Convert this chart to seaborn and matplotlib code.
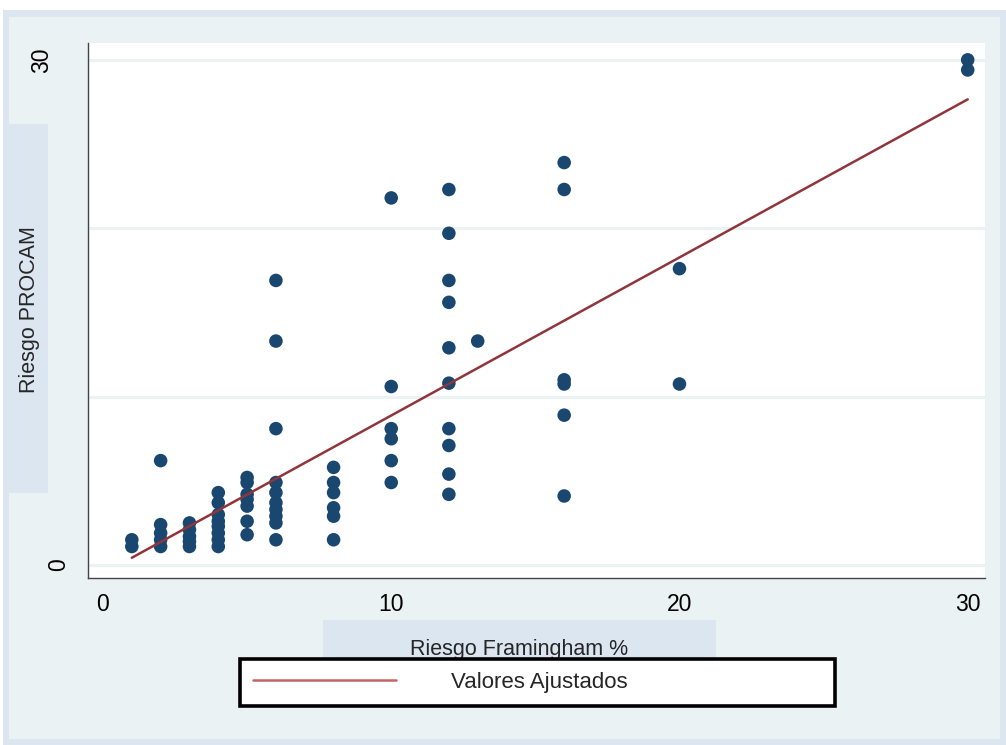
import matplotlib
matplotlib.use("Agg")
import matplotlib.pyplot as plt
import matplotlib.transforms as mtransforms
from matplotlib.patches import Rectangle
from matplotlib.lines import Line2D
import seaborn as sns
import pandas as pd

# Riesgo Framingham % (x) vs Riesgo PROCAM (y)
fram_1 = [1.5, 1.1]
fram_2 = [6.2, 2.4, 1.9, 1.5, 1.1]
fram_3 = [2.5, 2.1, 1.7, 1.4, 1.1]
fram_4 = [4.3, 3.7, 3.0, 2.6, 2.3, 1.9, 1.5, 1.1]
fram_5 = [5.2, 4.9, 4.2, 3.9, 3.5, 2.6, 1.8]
fram_6 = [16.9, 13.3, 8.1, 4.9, 4.3, 3.7, 3.3, 2.9, 2.5, 1.5]
fram_8 = [5.8, 4.9, 4.3, 3.4, 2.9, 1.5]
fram_10 = [21.8, 10.6, 8.1, 7.5, 6.2, 4.9]
fram_12 = [22.3, 19.7, 16.9, 15.6, 12.9, 10.8, 8.1, 7.1, 5.4, 4.2]
fram_13 = [13.3]
fram_16 = [23.9, 22.3, 11.0, 10.75, 8.9, 4.1]
fram_20 = [17.6, 10.75]
fram_30 = [30.0, 29.4]

groups = {1: fram_1, 2: fram_2, 3: fram_3, 4: fram_4, 5: fram_5, 6: fram_6,
          8: fram_8, 10: fram_10, 12: fram_12, 13: fram_13, 16: fram_16,
          20: fram_20, 30: fram_30}

x_ticks = [0, 10, 20, 30]
y_ticks = [0, 10, 20, 30]
y_tick_labels = ["0", "", "", "30"]

rows = []
for fx, vals in groups.items():
    for v in vals:
        rows.append({"framingham": fx, "procam": v})
df = pd.DataFrame(rows)

sns.set_style("white")
plt.rcParams["font.family"] = ["Liberation Sans", "DejaVu Sans"]
plt.rcParams["font.size"] = 15.5

navy = "#1A476F"
maroon = "#90353B"
box_col = "#DCE6F0"
region_col = "#EAF2F3"

fig = plt.figure(figsize=(10.06, 7.45), dpi=100, facecolor="white")
W, H = 1006, 745

def px_rect(x0, y0, x1, y1, color, z=-10):
    r = Rectangle((x0 / W, 1 - y1 / H), (x1 - x0) / W, (y1 - y0) / H,
                  transform=fig.transFigure, facecolor=color, edgecolor="none",
                  zorder=z)
    fig.add_artist(r)
    return r

# graph region
px_rect(3, 10, 1006, 745, box_col, z=-20)
px_rect(9, 17, 1000, 739, region_col, z=-19)

ax = fig.add_axes([88 / W, 1 - 578 / H, (985 - 88) / W, (578 - 43) / H])
ax.set_facecolor("white")

sns.scatterplot(data=df, x="framingham", y="procam", ax=ax, color=navy,
                s=95, edgecolor="none", zorder=3)
sns.regplot(data=df, x="framingham", y="procam", ax=ax, scatter=False,
            ci=None, color=maroon, line_kws={"lw": 1.8, "zorder": 4})

ax.set_xlim(-0.52, 30.6)
ax.set_ylim(-0.77, 31.0)
ax.set_xticks(x_ticks)
ax.set_yticks(y_ticks)
ax.set_yticklabels(y_tick_labels, rotation=90, va="center")
ax.set_xlabel("")
ax.set_ylabel("")
ax.grid(axis="y", color=region_col, lw=2.2)
ax.grid(axis="x", visible=False)
ax.set_axisbelow(True)
for side in ["top", "right"]:
    ax.spines[side].set_visible(False)
for side in ["left", "bottom"]:
    ax.spines[side].set_color("#444444")
    ax.spines[side].set_linewidth(1.0)
ax.tick_params(axis="both", which="major", direction="out", length=6,
               width=1, color="#444444", labelsize=16.5, labelcolor="black")
ax.tick_params(axis="x", pad=5)
ax.tick_params(axis="y", pad=7)

# shift the "30" label left like the reference
lbl30 = ax.get_yticklabels()[3]
lbl30.set_transform(lbl30.get_transform() +
                    mtransforms.ScaledTranslation(-17 / 100, 0, fig.dpi_scale_trans))

# axis title boxes
px_rect(5, 124, 48, 493, box_col, z=1)
fig.text(30 / W, 1 - 310 / H, "Riesgo PROCAM", rotation=90, ha="center",
         va="center", fontsize=15.5, zorder=2)
px_rect(323, 620, 716, 660, box_col, z=1)
fig.text(519 / W, 1 - 655 / H, "Riesgo Framingham %", ha="center",
         va="baseline", fontsize=15.5, zorder=2)

# legend
handle = Line2D([], [], color="#C46466", lw=1.8)
leg = fig.legend([handle], ["Valores Ajustados"],
                 bbox_to_anchor=(240 / W, 1 - 707 / H, 595 / W, 49 / H),
                 loc="center", mode="expand", ncol=1, frameon=True,
                 fancybox=False, handlelength=6.4, handletextpad=2.5,
                 borderpad=0.6, fontsize=16, borderaxespad=0)
leg.get_frame().set_edgecolor("black")
leg.get_frame().set_linewidth(2.6)
leg.get_frame().set_facecolor("white")
leg.get_frame().set_alpha(1)
leg.set_zorder(10)

fig.savefig("out.png", dpi=100, facecolor=fig.get_facecolor())
